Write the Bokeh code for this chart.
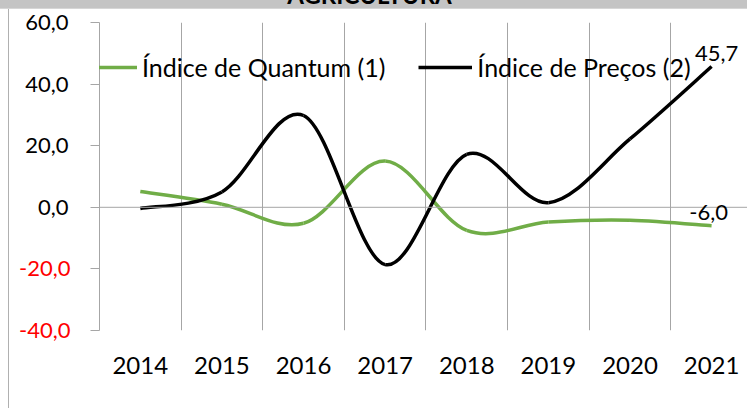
from bokeh.plotting import figure
from bokeh.layouts import column
from bokeh.models import (Range1d, FixedTicker, Span, Label, Legend, LegendItem,
                          CustomJSTickFormatter, ColumnDataSource, LinearAxis, Div)
from bokeh.embed import file_html
from bokeh.resources import INLINE

title_text = "AGRICULTURA"
years = ["2014", "2015", "2016", "2017", "2018", "2019", "2020", "2021"]
quantum = [5.1, 1.0, -5.2, 15.0, -7.5, -4.8, -4.2, -6.0]
precos = [-0.4, 5.0, 29.8, -18.6, 17.2, 1.5, 22.2, 45.7]
y_ticks = [-40, -20, 0, 20, 40, 60]
series_names = ["Índice de Quantum (1)", "Índice de Preços (2)"]

FONT = "Lato"
GREEN = "#70AD47"
GRAY = "#a6a6a6"

xs = [i + 0.5 for i in range(len(years))]


def fmt(v):
    return f"{v:.1f}".replace(".", ",")


def smooth_segments(vals):
    n = len(vals)
    d = dict(x0=[], y0=[], x1=[], y1=[], cx0=[], cy0=[], cx1=[], cy1=[])
    for i in range(n - 1):
        a = i - 1 if i > 0 else i
        b = i + 2 if i + 2 < n else i + 1
        d["x0"].append(xs[i]); d["y0"].append(vals[i])
        d["x1"].append(xs[i + 1]); d["y1"].append(vals[i + 1])
        d["cx0"].append(xs[i] + (xs[i + 1] - xs[a]) / 6)
        d["cy0"].append(vals[i] + (vals[i + 1] - vals[a]) / 6)
        d["cx1"].append(xs[i + 1] - (xs[b] - xs[i]) / 6)
        d["cy1"].append(vals[i + 1] - (vals[b] - vals[i]) / 6)
    return ColumnDataSource(d)


# cropped title band at the very top
band = Div(text=(f'<div style="position:relative; top:-17px; width:739px; text-align:center; '
                 f'font-family:Lato; font-weight:bold; font-size:24px; line-height:24px; '
                 f'color:#000;">{title_text}</div>'),
           width=747, height=8, margin=0,
           styles={"background-color": "#c4c4c4", "overflow": "hidden"})

p = figure(width=747, height=400, output_backend="svg", toolbar_location=None,
           x_range=Range1d(0, 7.94), y_range=Range1d(-40, 60),
           min_border_left=99, min_border_right=0, min_border_top=14,
           min_border_bottom=78, margin=0)
p.outline_line_color = None
p.background_fill_color = "white"
p.border_fill_color = None
p.styles = {
    "background": ("linear-gradient(to bottom, #d6d6d6 0px, #d6d6d6 1px, transparent 1px), "
                   "linear-gradient(to right, transparent 8px, #b0b0b0 8px, #b0b0b0 9px, transparent 9px), white"),
}

# grid
p.ygrid.visible = False
p.xgrid.ticker = FixedTicker(ticks=list(range(1, len(years))))
p.xgrid.grid_line_color = GRAY
p.xgrid.grid_line_width = 1

p.add_layout(Span(location=0, dimension="width", line_color=GRAY, line_width=1))

# x axis
p.xaxis.ticker = FixedTicker(ticks=xs)
p.xaxis.major_label_overrides = {x: y for x, y in zip(xs, years)}
p.xaxis.axis_line_color = None
p.xaxis.major_tick_line_color = None
p.xaxis.minor_tick_line_color = None
p.xaxis.major_label_standoff = 20
p.xaxis.major_label_text_font = FONT
p.xaxis.major_label_text_font_size = "24px"
p.xaxis.major_label_text_color = "black"

# y axis (non-negative labels in black)
p.yaxis.ticker = FixedTicker(ticks=y_ticks)
p.yaxis.formatter = CustomJSTickFormatter(
    code='return tick < 0 ? "" : tick.toFixed(1).replace(".", ",");')
p.yaxis.axis_line_color = GRAY
p.yaxis.major_tick_line_color = GRAY
p.yaxis.major_tick_out = 9
p.yaxis.major_tick_in = 0
p.yaxis.minor_tick_line_color = None
p.yaxis.major_label_standoff = 22
p.yaxis.major_label_text_font = FONT
p.yaxis.major_label_text_font_size = "22px"
p.yaxis.major_label_text_color = "black"

# second left axis carrying the negative labels in red, pulled onto the first
neg_axis = LinearAxis(ticker=FixedTicker(ticks=y_ticks),
                      formatter=CustomJSTickFormatter(
                          code='return tick < 0 ? tick.toFixed(1).replace(".", ",") : "";'))
neg_axis.axis_line_color = None
neg_axis.major_tick_line_color = None
neg_axis.minor_tick_line_color = None
neg_axis.major_tick_out = 0
neg_axis.major_tick_in = 0
neg_axis.major_label_standoff = -48
neg_axis.major_label_text_font = FONT
neg_axis.major_label_text_font_size = "22px"
neg_axis.major_label_text_color = "red"
p.add_layout(neg_axis, "left")

# series
r1 = p.bezier("x0", "y0", "x1", "y1", "cx0", "cy0", "cx1", "cy1",
              source=smooth_segments(quantum), line_color=GREEN, line_width=3.5)
r2 = p.bezier("x0", "y0", "x1", "y1", "cx0", "cy0", "cx1", "cy1",
              source=smooth_segments(precos), line_color="black", line_width=3.5)

# data labels for the last point
for vals, dx in ((precos, 5), (quantum, -3)):
    p.add_layout(Label(x=xs[-1], y=vals[-1], x_offset=dx, y_offset=6, text=fmt(vals[-1]),
                       text_color="black", text_font=FONT, text_font_size="22px",
                       text_align="center", text_baseline="bottom"))

legend = Legend(items=[LegendItem(label=series_names[0], renderers=[r1]),
                       LegendItem(label=series_names[1], renderers=[r2])],
                orientation="horizontal", location=(-16, 248),
                glyph_width=54, glyph_height=20, label_standoff=5, spacing=33,
                padding=0, margin=0, border_line_color=None,
                background_fill_alpha=0, label_text_font=FONT,
                label_text_font_size="25px", label_text_color="black")
p.add_layout(legend, "center")

layout = column(band, p, spacing=0, margin=0)

open("out.html", "w").write(file_html(layout, INLINE))
